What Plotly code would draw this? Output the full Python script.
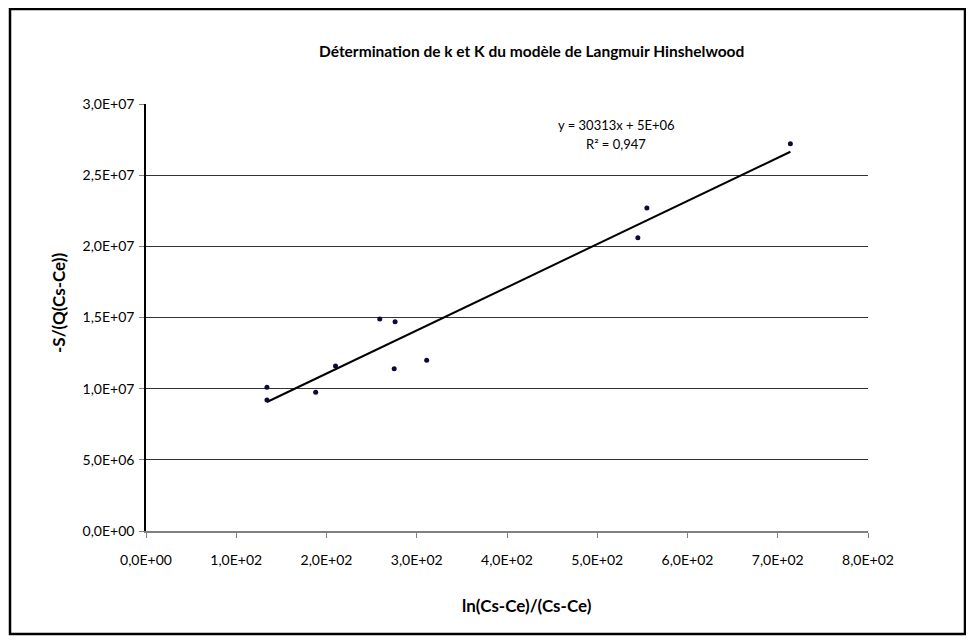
import plotly.graph_objects as go

# data
x_vals = [134, 134, 188, 210, 259, 276, 275, 311, 545, 555, 714]
y_vals = [10.1e6, 9.2e6, 9.75e6, 11.6e6, 14.9e6, 14.7e6, 11.4e6, 12.0e6, 20.6e6, 22.7e6, 27.2e6]

# trendline as printed on the chart
slope = 30313
intercept = 5e6

x_ticks = [0, 100, 200, 300, 400, 500, 600, 700, 800]
x_ticktext = ["0,0E+00", "1,0E+02", "2,0E+02", "3,0E+02", "4,0E+02",
              "5,0E+02", "6,0E+02", "7,0E+02", "8,0E+02"]
y_ticks = [0, 5e6, 10e6, 15e6, 20e6, 25e6, 30e6]
y_ticktext = ["0,0E+00", "5,0E+06", "1,0E+07", "1,5E+07", "2,0E+07", "2,5E+07", "3,0E+07"]

FONT = "Lato"

# plot area in page pixels; the page body adds an 8px margin
OFF = 8
L, R, T, B = 146, 868, 104, 531
W, H = 974 - OFF, 642 - OFF


def px(xp):
    return (xp - L) / (R - L)


def py(yp):
    return (B - yp) / (B - T)


x_fit = [min(x_vals), max(x_vals)]
y_fit = [slope * v + intercept for v in x_fit]

fig = go.Figure()
fig.add_trace(go.Scatter(x=x_fit, y=y_fit, mode="lines",
                         line=dict(color="black", width=2), hoverinfo="skip"))
fig.add_trace(go.Scatter(x=x_vals, y=y_vals, mode="markers",
                         marker=dict(color="#0b0b3b", size=5)))

fig.update_layout(
    width=W, height=H,
    margin=dict(l=L - OFF, r=W - (R - OFF), t=T - OFF, b=H - (B - OFF)),
    paper_bgcolor="white", plot_bgcolor="white",
    showlegend=False,
    font=dict(family=FONT, size=14, color="black"),
)
fig.update_xaxes(range=[0, 800], tickvals=x_ticks, ticktext=x_ticktext,
                 showgrid=False, zeroline=False,
                 showline=True, linecolor="#808080", linewidth=2,
                 ticks="outside", ticklen=5, tickcolor="#808080",
                 tickfont=dict(family=FONT, size=14), ticklabelstandoff=10)
fig.update_yaxes(range=[0, 3e7], tickvals=y_ticks, ticktext=y_ticktext,
                 showgrid=True, gridcolor="#333333", gridwidth=1, zeroline=False,
                 showline=True, linecolor="black", linewidth=1.5,
                 ticks="outside", ticklen=5, tickcolor="#808080",
                 tickfont=dict(family=FONT, size=14), ticklabelstandoff=2)

anns = [
    dict(text="<b>Détermination de k et K du modèle de Langmuir Hinshelwood</b>",
         x=px(531), y=py(51), size=15.5),
    dict(text="<b>-S/(Q(Cs-Ce))</b>", x=px(58), y=py(303), size=17, angle=-90),
    dict(text="<b>ln(Cs-Ce)/(Cs-Ce)</b>", x=px(527), y=py(605), size=17),
    dict(text="y = 30313x + 5E+06", x=px(616), y=py(125), size=13),
    dict(text="R² = 0,947", x=px(616), y=py(144), size=13),
]
for a in anns:
    fig.add_annotation(text=a["text"], x=a["x"], y=a["y"], xref="paper", yref="paper",
                       showarrow=False, xanchor="center", yanchor="middle",
                       textangle=a.get("angle", 0),
                       font=dict(family=FONT, size=a["size"], color="black"))

# chart area frame
fig.add_shape(type="rect", xref="paper", yref="paper",
              x0=px(10), x1=px(965), y0=py(634), y1=py(9),
              line=dict(color="black", width=2.5))

fig.write_html("out.html")
